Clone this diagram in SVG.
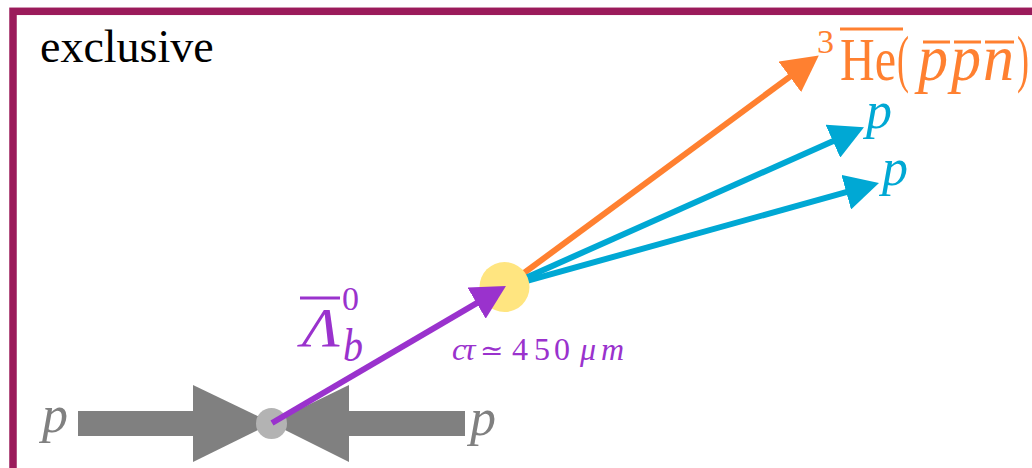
<svg xmlns="http://www.w3.org/2000/svg" width="1032" height="468" viewBox="0 0 1032 468">
<style>
.t{font-family:"Liberation Serif","DejaVu Serif",serif;}
.i{font-style:italic;}
.org{fill:#FF8030;}
.blu{fill:#00A8D4;}
.pur{fill:#9A32CD;}
.gry{fill:#808080;}
.ln{fill:none;stroke-width:6;}
</style>
<defs>
<marker id="ap" viewBox="0 0 34 36" refX="14" refY="18" markerWidth="34" markerHeight="36" markerUnits="userSpaceOnUse" orient="auto"><path d="M0,0 L34,18 L0,36 z" fill="#9A32CD"/></marker>
<marker id="ao" viewBox="0 0 36 38" refX="15" refY="19" markerWidth="36" markerHeight="38" markerUnits="userSpaceOnUse" orient="auto"><path d="M0,0 L36,19 L0,38 z" fill="#FF8030"/></marker>
<marker id="ab" viewBox="0 0 34 36" refX="14" refY="18" markerWidth="34" markerHeight="36" markerUnits="userSpaceOnUse" orient="auto"><path d="M0,0 L34,18 L0,36 z" fill="#00A8D4"/></marker>
</defs>
<rect x="0" y="0" width="1032" height="468" fill="#fff"/>
<rect x="13" y="11.3" width="1100" height="520" fill="none" stroke="#9B1B5B" stroke-width="7.5"/>
<text class="t" x="40" y="62" font-size="46" fill="#000">exclusive</text>

<g id="beam-left">
<rect x="78" y="411" width="117" height="25" fill="#808080"/>
<polygon points="193,385 193,462 272,423" fill="#808080"/>
<text class="t i gry" x="42" y="432" font-size="52">p</text>
</g>
<g id="beam-right">
<rect x="349" y="411" width="116" height="25" fill="#808080"/>
<polygon points="349,385 349,462 271,423" fill="#808080"/>
<text class="t i gry" x="470" y="435" font-size="52">p</text>
</g>
<g id="pv"><circle cx="271.5" cy="423.5" r="15.5" fill="#B3B3B3"/></g>

<g id="connectors">
<line class="ln" x1="505" y1="287" x2="801.9" y2="67.9" stroke="#FF8030" marker-end="url(#ao)"/>
<line class="ln" x1="505" y1="287" x2="845.7" y2="135.5" stroke="#00A8D4" marker-end="url(#ab)"/>
<line class="ln" x1="505" y1="287" x2="859.7" y2="188.4" stroke="#00A8D4" marker-end="url(#ab)"/>
</g>
<g id="sv"><circle cx="504.5" cy="287" r="25" fill="#FFE580"/></g>
<g id="lambda-track">
<line class="ln" x1="272" y1="423" x2="488.7" y2="296.1" stroke="#9A32CD" marker-end="url(#ap)"/>
</g>

<g id="label-lambda">
<line x1="300" y1="298" x2="340" y2="298" stroke="#9A32CD" stroke-width="3"/>
<text class="t i pur" x="302" y="346" font-size="54" textLength="38" lengthAdjust="spacingAndGlyphs">Λ</text>
<text class="t pur" x="342" y="310" font-size="34">0</text>
<text class="t i pur" x="343" y="361" font-size="46" textLength="20" lengthAdjust="spacingAndGlyphs">b</text>
</g>
<g id="label-ctau">
<text class="t pur" y="360" font-size="32"><tspan class="i" x="452">c</tspan><tspan class="i" x="464">τ</tspan><tspan x="480" font-size="28">≃</tspan><tspan x="512">4</tspan><tspan x="534">5</tspan><tspan x="554">0</tspan><tspan class="i" x="580">μ</tspan><tspan class="i" x="601">m</tspan></text>
</g>

<g id="label-he3">
<text class="t org" x="817" y="53" font-size="34">3</text>
<text class="t org" x="840" y="80" font-size="62" textLength="56" lengthAdjust="spacingAndGlyphs">He</text>
<text class="t org" x="897" y="80" font-size="64" textLength="12" lengthAdjust="spacingAndGlyphs">(</text>
<text class="t i org" x="918" y="80" font-size="66" textLength="30" lengthAdjust="spacingAndGlyphs">p</text>
<text class="t i org" x="951" y="80" font-size="66" textLength="30" lengthAdjust="spacingAndGlyphs">p</text>
<text class="t i org" x="983" y="80" font-size="66" textLength="31" lengthAdjust="spacingAndGlyphs">n</text>
<text class="t org" x="1017" y="80" font-size="64" textLength="12" lengthAdjust="spacingAndGlyphs">)</text>
<g stroke="#FF8030" stroke-width="3">
<line x1="840" y1="29" x2="903" y2="29"/>
<line x1="923" y1="42" x2="950" y2="42"/>
<line x1="954" y1="42" x2="981" y2="42"/>
<line x1="985" y1="42" x2="1014" y2="42"/>
</g>
</g>
<g id="label-p1"><text class="t i blu" x="866" y="128" font-size="52">p</text></g>
<g id="label-p2"><text class="t i blu" x="882" y="185" font-size="52">p</text></g>
</svg>
